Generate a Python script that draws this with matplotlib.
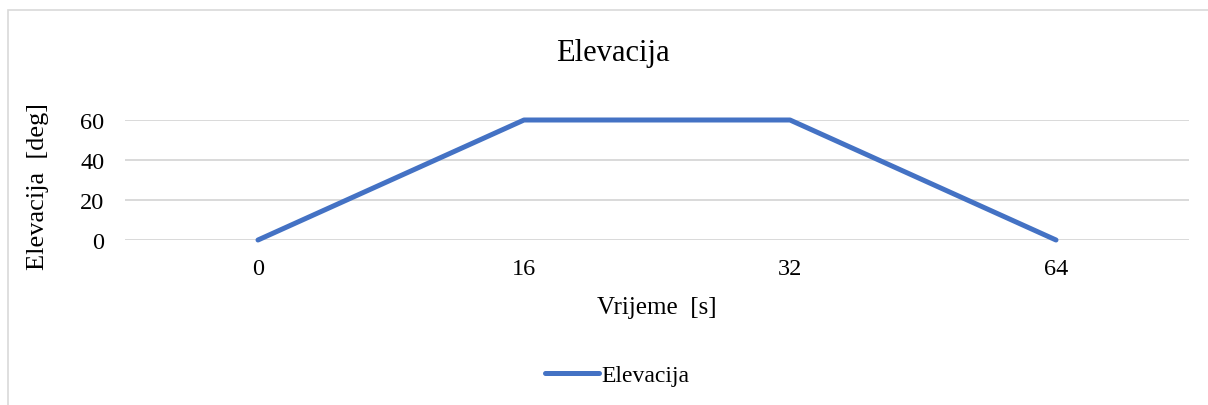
import matplotlib.pyplot as plt
from matplotlib.patches import Rectangle

# data
categories = ['0', '16', '32', '64']
elevation = [0, 60, 60, 0]
y_ticks = [0, 20, 40, 60]

W, H = 1208, 406
plt.rcParams['font.family'] = ['Liberation Serif', 'DejaVu Serif']

fig = plt.figure(figsize=(W / 100, H / 100), dpi=100)

# outer chart border (cut off at right/bottom like the reference)
fig.patches.append(Rectangle((8 / W, -0.1), 1.2, 1 - 11 / H + 0.1,
                             transform=fig.transFigure, fill=False,
                             edgecolor='#D9D9D9', linewidth=1.2))

left, right = 125 / W, 1189 / W
bottom, top = 1 - 241 / H, 1 - 121 / H
ax = fig.add_axes([left, bottom, right - left, top - bottom])

x = range(len(categories))
ax.plot(x, elevation, color='#4472C4', linewidth=3.6,
        solid_capstyle='round', solid_joinstyle='round',
        clip_on=False, zorder=3, label='Elevacija')

ax.set_xlim(-0.5, len(categories) - 0.5)
ax.set_ylim(0, 60)
ax.set_xticks(list(x))
ax.set_xticklabels(categories)
ax.set_yticks(y_ticks)
ax.tick_params(axis='both', length=0, labelsize=17.5)
ax.tick_params(axis='x', pad=13)
ax.tick_params(axis='y', pad=15)

ax.grid(axis='y', color='#D9D9D9', linewidth=1.4)
ax.set_axisbelow(True)
for s in ax.spines.values():
    s.set_visible(False)

ax.set_xlabel('Vrijeme  [s]', fontsize=18, labelpad=12)
ax.set_ylabel('Elevacija  [deg]', fontsize=19, va='center')
ax.yaxis.set_label_coords((38 - 125) / (1189 - 125), 0.45)

fig.text(613 / W, 1 - 53 / H, 'Elevacija', fontsize=22,
         ha='center', va='center')

fig.legend(loc='center', bbox_to_anchor=(617 / W, 1 - 376 / H),
           frameon=False, fontsize=17, handlelength=2.3,
           handletextpad=0.1)

fig.savefig('out.png', dpi=100)
